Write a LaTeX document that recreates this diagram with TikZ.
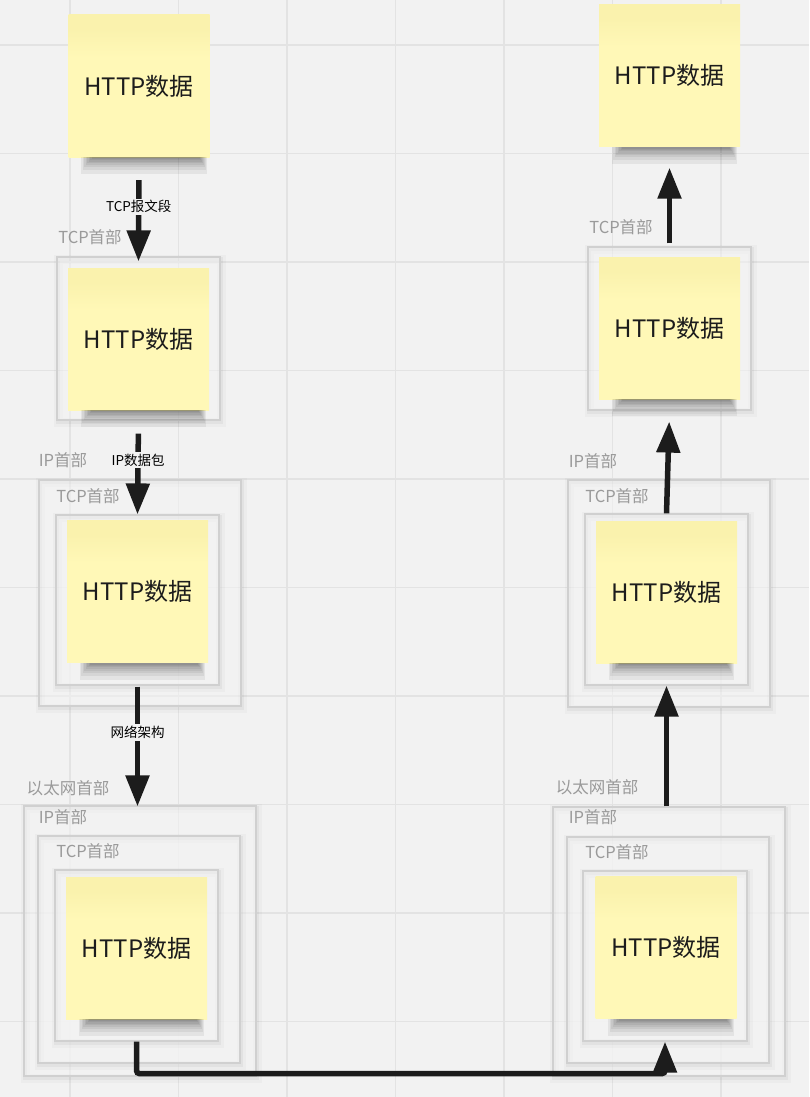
\documentclass[tikz,border=0pt]{standalone}
\usepackage{fontspec}
\setmainfont{Noto Sans CJK SC}
\usetikzlibrary{arrows.meta}
\definecolor{bg}{HTML}{F2F2F2}
\definecolor{gridc}{HTML}{E3E3E3}
\definecolor{boxline}{HTML}{D0D0D0}
\definecolor{boxfill}{HTML}{F3F3F3}
\definecolor{stickytop}{HTML}{FAF2AD}
\definecolor{stickybot}{HTML}{FFF8B7}
\definecolor{labelgrey}{HTML}{9A9A9A}
\definecolor{ink}{HTML}{1C1C1C}
\pgfdeclareverticalshading{stickysh}{100bp}{color(0bp)=(stickybot); color(60bp)=(stickybot); color(70bp)=(stickytop); color(100bp)=(stickytop)}
\newcommand\stickyshadow[1]{%
  \foreach \h [count=\i from 0] in {17,13,10,8,6,4.5,3,2}{%
    \fill[black,opacity=0.06] ([xshift={13pt+1.5pt*\i}]#1.south west) rectangle ([xshift={-3pt-1pt*\i},yshift={-\h pt}]#1.south east);}}
\tikzset{
  sticky/.style={rectangle, minimum width=141pt, minimum height=142pt, inner sep=0pt,
    shading=stickysh, text=ink, font=\fontsize{24pt}{28pt}\selectfont},
  pbox/.style={rectangle, inner sep=0pt, draw=boxline, fill=boxfill, fill opacity=0.5, line width=1.2pt,
    preaction={draw=black, draw opacity=0.025, line width=9pt, fill=none, transform canvas={xshift=1pt,yshift=-2pt}},
    preaction={draw=black, draw opacity=0.04, line width=4.5pt, fill=none, transform canvas={xshift=1pt,yshift=-2pt}}},
  hdr/.style={text=labelgrey, font=\fontsize{16.5pt}{19pt}\selectfont, inner sep=0pt},
  arr/.style={draw=ink, line width=5.5pt, -{Triangle[length=31pt,width=23pt]}},
  alabel/.style={fill=bg, text=black, font=\fontsize{13.5pt}{16pt}\selectfont, inner sep=2pt}
}
\begin{document}
\begin{tikzpicture}[x=1pt,y=-1pt]
\useasboundingbox (0,0) rectangle (809,1097);
\fill[bg] (0,0) rectangle (809,1097);
% grid
\foreach \k in {0,...,6} \draw[gridc, line width=1.5pt] ({70+108.5*\k},0) -- ({70+108.5*\k},1097);
\foreach \k in {0,...,9} \draw[gridc, line width=1.5pt] (0,{45+108.5*\k}) -- (809,{45+108.5*\k});

% ===== left column =====
\node[sticky] (L1s) at (139,86) {HTTP数据};
\stickyshadow{L1s}

\node[pbox, minimum width=163pt, minimum height=163pt] (L2t) at (138.5,338.5) {};
\node[hdr] (L2th) at (90,237) {TCP首部};
\node[sticky] (L2s) at (138.5,339) {HTTP数据};
\stickyshadow{L2s}

\node[pbox, minimum width=202pt, minimum height=226pt] (L3i) at (140,593) {};
\node[hdr] (L3ih) at (63,460) {IP首部};
\node[pbox, minimum width=163pt, minimum height=170pt] (L3t) at (137.5,600) {};
\node[hdr] (L3th) at (88,496) {TCP首部};
\node[sticky] (L3s) at (137.5,591.5) {HTTP数据};
\stickyshadow{L3s}

\node[pbox, minimum width=232pt, minimum height=270pt] (L4e) at (140,941) {};
\node[hdr] (L4eh) at (68,788) {以太网首部};
\node[pbox, minimum width=202pt, minimum height=227pt] (L4i) at (139,949.5) {};
\node[hdr] (L4ih) at (63,817) {IP首部};
\node[pbox, minimum width=163pt, minimum height=171pt] (L4t) at (136.5,955.5) {};
\node[hdr] (L4th) at (88,851) {TCP首部};
\node[sticky] (L4s) at (136.5,948) {HTTP数据};
\stickyshadow{L4s}

% ===== right column =====
\node[sticky] (R1s) at (669.5,75.5) {HTTP数据};
\stickyshadow{R1s}

\node[pbox, minimum width=163pt, minimum height=163pt] (R2t) at (669.5,328.5) {};
\node[hdr] (R2th) at (621,227) {TCP首部};
\node[sticky] (R2s) at (669.5,328) {HTTP数据};
\stickyshadow{R2s}

\node[pbox, minimum width=202pt, minimum height=227pt] (R3i) at (669,593.5) {};
\node[hdr] (R3ih) at (593,461) {IP首部};
\node[pbox, minimum width=163pt, minimum height=171pt] (R3t) at (666.5,599.5) {};
\node[hdr] (R3th) at (617,496) {TCP首部};
\node[sticky] (R3s) at (666.5,592) {HTTP数据};
\stickyshadow{R3s}

\node[pbox, minimum width=232pt, minimum height=269pt] (R4e) at (669,941.5) {};
\node[hdr] (R4eh) at (597,787) {以太网首部};
\node[pbox, minimum width=202pt, minimum height=226pt] (R4i) at (668,950) {};
\node[hdr] (R4ih) at (593,817) {IP首部};
\node[pbox, minimum width=164pt, minimum height=170pt] (R4t) at (665,956) {};
\node[hdr] (R4th) at (617,852) {TCP首部};
\node[sticky] (R4s) at (666,947.5) {HTTP数据};
\stickyshadow{R4s}

% ===== connectors =====
\draw[arr, shorten <=23pt, shorten >=-5pt] (L1s.south) -- (L2t.north)
  node[alabel, pos=0.5] {TCP报文段};
\draw[arr, shorten <=13pt] (L2t.south) -- (L3t.north)
  node[alabel, pos=0.42] {IP数据包};
\draw[arr, shorten <=1pt, shorten >=-1pt] (L3t.south) -- (L3t.south |- L4e.north)
  node[alabel, pos=0.39] {网络架构};
\draw[arr, rounded corners=3pt] (L4t.south) -- ++(0,32) -| (R4t.south);
\draw[arr] (R3t.south |- R4e.north) -- (R3t.south);
\draw[arr, shorten >=11pt] (R3t.north) -- (R2t.south);
\draw[arr, shorten <=3pt, shorten >=21pt] (R2t.north) -- (R1s.south);
\end{tikzpicture}
\end{document}
